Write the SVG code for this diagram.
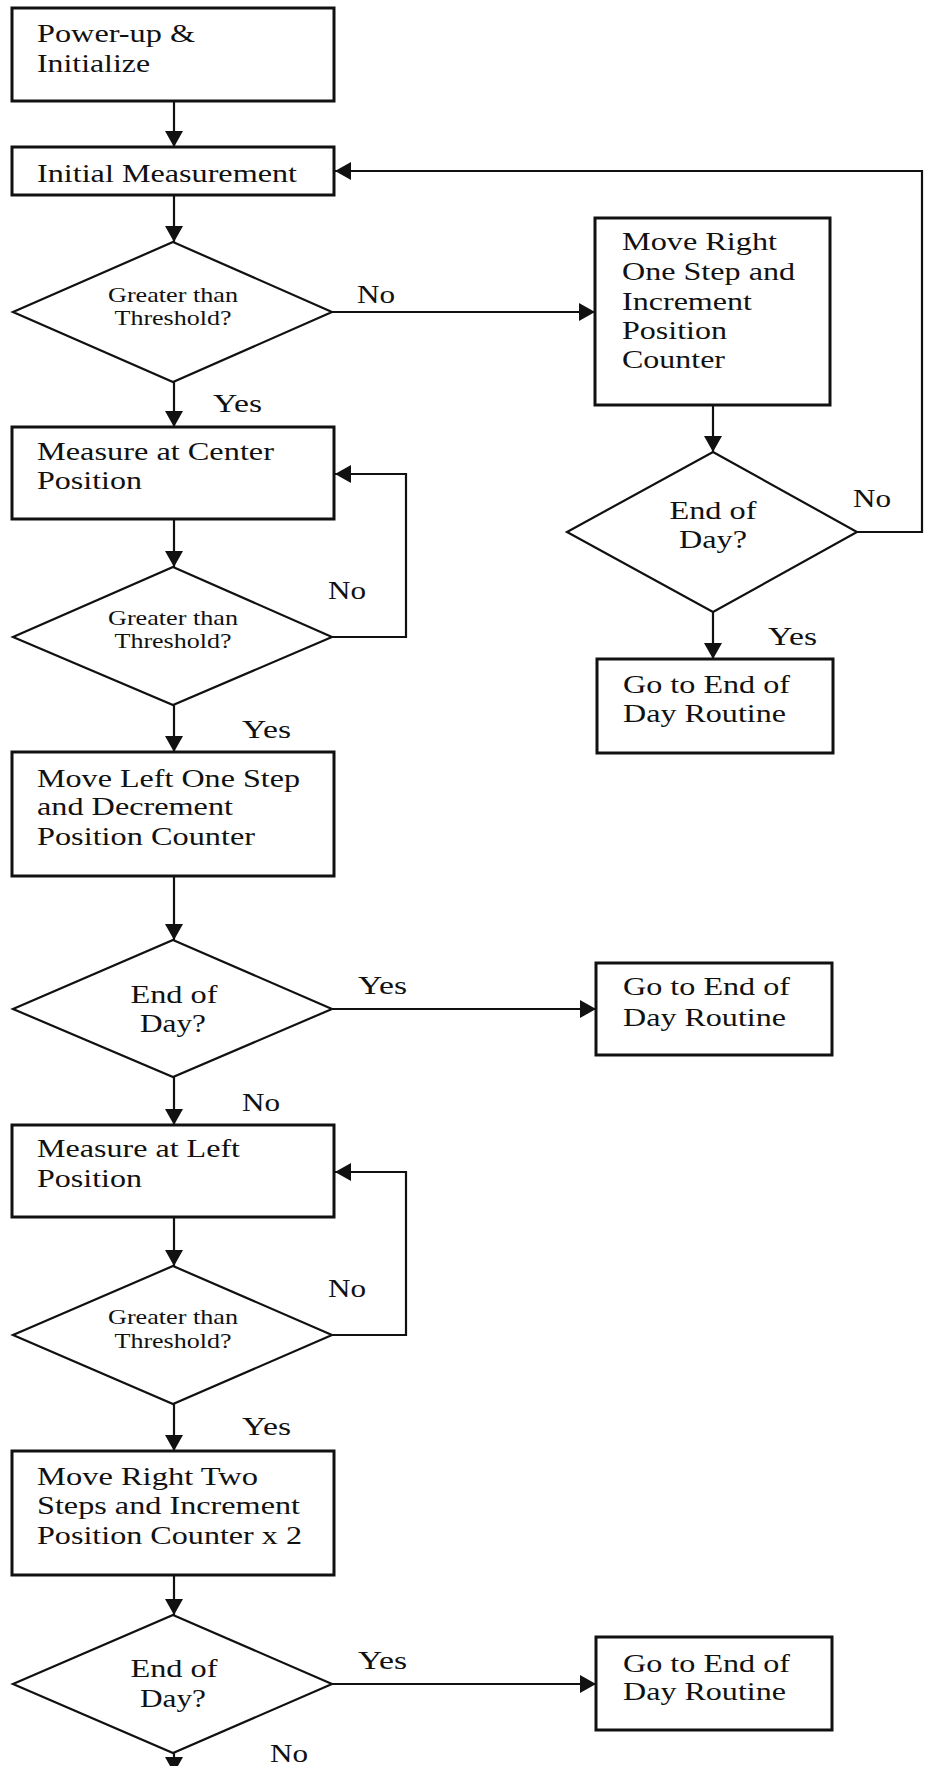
<svg xmlns="http://www.w3.org/2000/svg" width="925" height="1766" viewBox="0 0 925 1766">
<defs>
<style>
.box{fill:#fff;stroke:#111;stroke-width:3}
.dia{fill:#fff;stroke:#111;stroke-width:2.2}
.con{fill:none;stroke:#111;stroke-width:2.2}
.t{font-family:"Liberation Serif","Times New Roman",serif;font-size:26px;fill:#111}
.s{font-family:"Liberation Serif","Times New Roman",serif;font-size:21px;fill:#111}
.c{text-anchor:middle}
</style>
<marker id="ah" viewBox="0 0 16 18" refX="16" refY="9" markerWidth="16" markerHeight="18" orient="auto" markerUnits="userSpaceOnUse">
<path d="M0,0 L16,9 L0,18 z" fill="#111"/>
</marker>
</defs>
<rect width="925" height="1766" fill="#fff"/>

<g id="connectors" class="con" marker-end="url(#ah)">
<path d="M174,101 V147"/>
<path d="M174,195 V242"/>
<path d="M332,312 H595"/>
<path d="M174,382 V427"/>
<path d="M857,532 H922 V171 H335"/>
<path d="M713,405 V452"/>
<path d="M713,612 V659"/>
<path d="M174,519 V567"/>
<path d="M332,637 H406 V474 H335"/>
<path d="M174,705 V752"/>
<path d="M174,876 V940"/>
<path d="M332,1009 H596"/>
<path d="M174,1077 V1125"/>
<path d="M174,1217 V1266"/>
<path d="M332,1335 H406 V1172 H335"/>
<path d="M174,1404 V1451"/>
<path d="M174,1575 V1615"/>
<path d="M332,1684 H596"/>
<path d="M174,1753 V1773"/>
</g>

<g id="labels">
<text class="t" x="357" y="303" textLength="38" lengthAdjust="spacingAndGlyphs">No</text>
<text class="t" x="213" y="412" textLength="49" lengthAdjust="spacingAndGlyphs">Yes</text>
<text class="t" x="853" y="507" textLength="38" lengthAdjust="spacingAndGlyphs">No</text>
<text class="t" x="768" y="645" textLength="49" lengthAdjust="spacingAndGlyphs">Yes</text>
<text class="t" x="328" y="599" textLength="38" lengthAdjust="spacingAndGlyphs">No</text>
<text class="t" x="242" y="738" textLength="49" lengthAdjust="spacingAndGlyphs">Yes</text>
<text class="t" x="358" y="994" textLength="49" lengthAdjust="spacingAndGlyphs">Yes</text>
<text class="t" x="242" y="1111" textLength="38" lengthAdjust="spacingAndGlyphs">No</text>
<text class="t" x="328" y="1297" textLength="38" lengthAdjust="spacingAndGlyphs">No</text>
<text class="t" x="242" y="1435" textLength="49" lengthAdjust="spacingAndGlyphs">Yes</text>
<text class="t" x="358" y="1669" textLength="49" lengthAdjust="spacingAndGlyphs">Yes</text>
<text class="t" x="270" y="1762" textLength="38" lengthAdjust="spacingAndGlyphs">No</text>
</g>

<g id="n-power">
<rect class="box" x="12" y="8" width="322" height="93"/>
<text class="t" x="37" y="42" textLength="158" lengthAdjust="spacingAndGlyphs">Power-up &amp;</text>
<text class="t" x="37" y="72" textLength="113" lengthAdjust="spacingAndGlyphs">Initialize</text>
</g>

<g id="n-initial">
<rect class="box" x="12" y="147" width="322" height="48"/>
<text class="t" x="37" y="182" textLength="260" lengthAdjust="spacingAndGlyphs">Initial Measurement</text>
</g>

<g id="d-thresh1">
<polygon class="dia" points="173,242 332,312 173,382 13,312"/>
<text class="s c" x="173" y="302" textLength="130" lengthAdjust="spacingAndGlyphs">Greater than</text>
<text class="s c" x="173" y="325" textLength="117" lengthAdjust="spacingAndGlyphs">Threshold?</text>
</g>

<g id="n-moveright1">
<rect class="box" x="595" y="218" width="235" height="187"/>
<text class="t" x="622" y="250" textLength="155" lengthAdjust="spacingAndGlyphs">Move Right</text>
<text class="t" x="622" y="280" textLength="173" lengthAdjust="spacingAndGlyphs">One Step and</text>
<text class="t" x="622" y="310" textLength="130" lengthAdjust="spacingAndGlyphs">Increment</text>
<text class="t" x="622" y="339" textLength="105" lengthAdjust="spacingAndGlyphs">Position</text>
<text class="t" x="622" y="368" textLength="103" lengthAdjust="spacingAndGlyphs">Counter</text>
</g>

<g id="d-eod1">
<polygon class="dia" points="713,452 857,532 713,612 567,532"/>
<text class="t c" x="713" y="519" textLength="87" lengthAdjust="spacingAndGlyphs">End of</text>
<text class="t c" x="713" y="548" textLength="68" lengthAdjust="spacingAndGlyphs">Day?</text>
</g>

<g id="n-eod1">
<rect class="box" x="597" y="659" width="236" height="94"/>
<text class="t" x="623" y="693" textLength="167" lengthAdjust="spacingAndGlyphs">Go to End of</text>
<text class="t" x="623" y="722" textLength="163" lengthAdjust="spacingAndGlyphs">Day Routine</text>
</g>

<g id="n-center">
<rect class="box" x="12" y="427" width="322" height="92"/>
<text class="t" x="37" y="460" textLength="237" lengthAdjust="spacingAndGlyphs">Measure at Center</text>
<text class="t" x="37" y="489" textLength="105" lengthAdjust="spacingAndGlyphs">Position</text>
</g>

<g id="d-thresh2">
<polygon class="dia" points="173,567 332,637 173,705 13,637"/>
<text class="s c" x="173" y="625" textLength="130" lengthAdjust="spacingAndGlyphs">Greater than</text>
<text class="s c" x="173" y="648" textLength="117" lengthAdjust="spacingAndGlyphs">Threshold?</text>
</g>

<g id="n-moveleft">
<rect class="box" x="12" y="752" width="322" height="124"/>
<text class="t" x="37" y="787" textLength="263" lengthAdjust="spacingAndGlyphs">Move Left One Step</text>
<text class="t" x="37" y="815" textLength="196" lengthAdjust="spacingAndGlyphs">and Decrement</text>
<text class="t" x="37" y="845" textLength="218" lengthAdjust="spacingAndGlyphs">Position Counter</text>
</g>

<g id="d-eod2">
<polygon class="dia" points="173,940 332,1009 173,1077 13,1009"/>
<text class="t c" x="174" y="1003" textLength="87" lengthAdjust="spacingAndGlyphs">End of</text>
<text class="t c" x="173" y="1032" textLength="66" lengthAdjust="spacingAndGlyphs">Day?</text>
</g>

<g id="n-eod2">
<rect class="box" x="596" y="963" width="236" height="92"/>
<text class="t" x="623" y="995" textLength="167" lengthAdjust="spacingAndGlyphs">Go to End of</text>
<text class="t" x="623" y="1026" textLength="163" lengthAdjust="spacingAndGlyphs">Day Routine</text>
</g>

<g id="n-left">
<rect class="box" x="12" y="1125" width="322" height="92"/>
<text class="t" x="37" y="1157" textLength="203" lengthAdjust="spacingAndGlyphs">Measure at Left</text>
<text class="t" x="37" y="1187" textLength="105" lengthAdjust="spacingAndGlyphs">Position</text>
</g>

<g id="d-thresh3">
<polygon class="dia" points="173,1266 332,1335 173,1404 13,1335"/>
<text class="s c" x="173" y="1324" textLength="130" lengthAdjust="spacingAndGlyphs">Greater than</text>
<text class="s c" x="173" y="1348" textLength="117" lengthAdjust="spacingAndGlyphs">Threshold?</text>
</g>

<g id="n-moveright2">
<rect class="box" x="12" y="1451" width="322" height="124"/>
<text class="t" x="37" y="1485" textLength="221" lengthAdjust="spacingAndGlyphs">Move Right Two</text>
<text class="t" x="37" y="1514" textLength="263" lengthAdjust="spacingAndGlyphs">Steps and Increment</text>
<text class="t" x="37" y="1544" textLength="265" lengthAdjust="spacingAndGlyphs">Position Counter x 2</text>
</g>

<g id="d-eod3">
<polygon class="dia" points="173,1615 332,1684 173,1753 13,1684"/>
<text class="t c" x="174" y="1677" textLength="87" lengthAdjust="spacingAndGlyphs">End of</text>
<text class="t c" x="173" y="1707" textLength="66" lengthAdjust="spacingAndGlyphs">Day?</text>
</g>

<g id="n-eod3">
<rect class="box" x="596" y="1637" width="236" height="93"/>
<text class="t" x="623" y="1672" textLength="167" lengthAdjust="spacingAndGlyphs">Go to End of</text>
<text class="t" x="623" y="1700" textLength="163" lengthAdjust="spacingAndGlyphs">Day Routine</text>
</g>
</svg>
